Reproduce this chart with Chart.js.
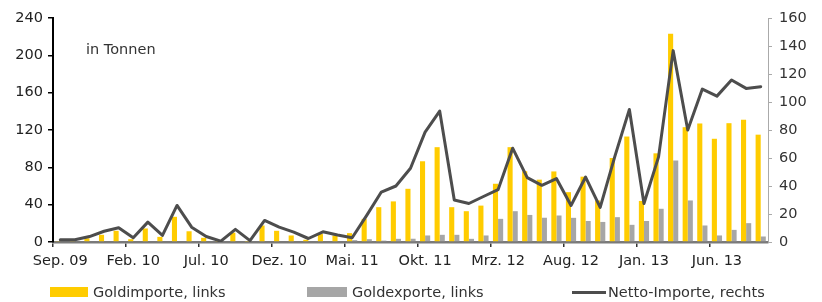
<!DOCTYPE html>
<html>
<head>
<meta charset="utf-8">
<script src="https://cdn.jsdelivr.net/npm/chart.js@4.4.1/dist/chart.umd.min.js"></script>
<style>
  html, body { margin: 0; padding: 0; background: #fff; overflow: hidden; }
  #wrap { position: relative; width: 822px; height: 302px; }
  canvas { display: block; }
  .lg { position: absolute; top: 284px; height: 16px; display: flex; align-items: center;
        font: 14.5px "DejaVu Sans", sans-serif; color: #333; white-space: nowrap; }
  .sw { display: inline-block; width: 38px; height: 10px; margin-right: 5px; }
  .ln { display: inline-block; width: 34px; height: 0; border-top: 3px solid #4d4d4d; margin-right: 2px; }
</style>
</head>
<body>
<div id="wrap">
  <canvas id="c" width="822" height="302"></canvas>
</div>
<script>
// ---- data ----
const categories = [
  "Sep. 09","Okt. 09","Nov. 09","Dez. 09",
  "Jan. 10","Feb. 10","Mrz. 10","Apr. 10","Mai. 10","Jun. 10","Jul. 10","Aug. 10","Sep. 10","Okt. 10","Nov. 10","Dez. 10",
  "Jan. 11","Feb. 11","Mrz. 11","Apr. 11","Mai. 11","Jun. 11","Jul. 11","Aug. 11","Sep. 11","Okt. 11","Nov. 11","Dez. 11",
  "Jan. 12","Feb. 12","Mrz. 12","Apr. 12","Mai. 12","Jun. 12","Jul. 12","Aug. 12","Sep. 12","Okt. 12","Nov. 12","Dez. 12",
  "Jan. 13","Feb. 13","Mrz. 13","Apr. 13","Mai. 13","Jun. 13","Jul. 13","Aug. 13","Sep. 13"
];
const tickLabels = ["Sep. 09","Feb. 10","Jul. 10","Dez. 10","Mai. 11","Okt. 11","Mrz. 12","Aug. 12","Jan. 13","Jun. 13"];

// Goldimporte (Tonnen, linke Achse)
const goldImports = [
  1, 1, 4, 7.7, 12, 3, 14.5, 5.5, 27, 11.5,
  4.5, 0.5, 10, 0.5, 17.7, 12, 7, 2.4, 8.5, 7,
  9.5, 24.8, 37.3, 43.5, 57, 86.5, 101.6, 37.3, 33, 39,
  62.4, 101.6, 75.8, 66.8, 75.6, 53.4, 70, 44.5, 90, 113,
  44, 95, 223, 123, 127, 110.6, 127.3, 131, 115
];
// Goldexporte (Tonnen, linke Achse)
const goldExports = [
  0, 0, 0, 0, 0, 0, 0, 0, 0, 0,
  0, 0, 0, 0, 0, 0, 0, 0, 0, 0,
  2, 3, 1.5, 3.4, 3.5, 7, 7.7, 7.7, 3.4, 7,
  24.8, 33, 29, 26, 28.4, 25.9, 22.5, 21.5, 26.6, 18.4,
  22.5, 35.6, 87.3, 44.5, 17.7, 7, 13, 20.2, 5.9
];
// Netto-Importe (Tonnen, rechte Achse)
const netImports = [
  1.6, 1.6, 3.9, 7.7, 10.2, 3, 14.2, 4.7, 26.1, 10.6,
  3.9, 0.6, 9, 1, 15.4, 10.6, 7, 2.5, 7.3, 5,
  3, 19, 35.7, 40, 52.7, 78.5, 93.5, 30, 27.5, 32.5,
  37.4, 67, 46, 40.5, 45.3, 26.1, 46.4, 24.7, 61, 94.7,
  27.5, 60.8, 136.7, 80, 109.2, 104.2, 115.7, 109.7, 110.9
];
const seriesNames = ["Goldimporte, links", "Goldexporte, links", "Netto-Importe, rechts"];
const unitLabel = "in Tonnen";

const leftAxis = { min: 0, max: 240, step: 40 };
const rightAxis = { min: 0, max: 160, step: 20 };

// ---- chart ----
const FONT = { family: "DejaVu Sans", size: 14.5 };
const YELLOW = "#ffcc00", GREY = "#a6a6a6", LINE = "#4d4d4d";

const unitPlugin = {
  id: "unitLabel",
  afterDraw(chart) {
    const { ctx, chartArea } = chart;
    ctx.save();
    ctx.font = '14.5px "DejaVu Sans"';
    ctx.fillStyle = "#333";
    ctx.textBaseline = "middle";
    ctx.textAlign = "left";
    ctx.fillText(unitLabel, chartArea.left + 33, chartArea.top + 32);
    ctx.restore();
  }
};

const chart = new Chart(document.getElementById("c"), {
  data: {
    labels: categories,
    datasets: [
      { type: "bar", label: seriesNames[0], data: goldImports, yAxisID: "y",
        backgroundColor: YELLOW, borderWidth: 0, categoryPercentage: 0.7, barPercentage: 1, order: 1 },
      { type: "bar", label: seriesNames[1], data: goldExports, yAxisID: "y",
        backgroundColor: GREY, borderWidth: 0, categoryPercentage: 0.7, barPercentage: 1, order: 1 },
      { type: "line", label: seriesNames[2], data: netImports, yAxisID: "y1",
        borderColor: LINE, borderWidth: 3, pointRadius: 0, tension: 0, order: 0,
        borderJoinStyle: "round", borderCapStyle: "round" }
    ]
  },
  options: {
    responsive: false,
    animation: false,
    devicePixelRatio: 1,
    layout: { padding: { top: 18, bottom: 28, left: 0, right: 0 } },
    plugins: { legend: { display: false }, tooltip: { enabled: false } },
    scales: {
      x: {
        offset: true,
        z: 1,
        grid: {
          offset: true, drawOnChartArea: false, drawTicks: true, tickLength: 5, lineWidth: 1.5,
          color: (c) => (c.index !== undefined && c.index % 5 === 0) ? "#333" : "rgba(0,0,0,0)"
        },
        border: { color: "#7a7a7a", width: 2.5 },
        ticks: {
          autoSkip: false, maxRotation: 0, minRotation: 0, padding: 6, font: FONT, color: "#222",
          callback: (v, i) => tickLabels.includes(categories[i]) ? categories[i] : ""
        },
        afterFit: (s) => { s.height = 32; }
      },
      y: {
        position: "left", min: leftAxis.min, max: leftAxis.max,
        ticks: { stepSize: leftAxis.step, padding: 5, font: FONT, color: "#222" },
        grid: { drawOnChartArea: false, tickLength: 5, color: "#000", lineWidth: 1.5 },
        border: { color: "#000", width: 2 },
        afterFit: (s) => { s.width = 53; }
      },
      y1: {
        position: "right", min: rightAxis.min, max: rightAxis.max,
        ticks: { stepSize: rightAxis.step, padding: 7, font: FONT, color: "#333" },
        grid: { drawOnChartArea: false, tickLength: 4, color: "#aaa" },
        border: { color: "#aaa", width: 1 },
        afterFit: (s) => { s.width = 54; }
      }
    }
  },
  plugins: [unitPlugin]
});

// ---- HTML legend built from the chart's datasets ----
const legendLeft = [50, 307, 572];
const wrap = document.getElementById("wrap");
chart.data.datasets.forEach((ds, i) => {
  const item = document.createElement("div");
  item.className = "lg";
  item.style.left = legendLeft[i] + "px";
  const sw = document.createElement("span");
  if (ds.type === "line") {
    sw.className = "ln";
  } else {
    sw.className = "sw";
    sw.style.background = ds.backgroundColor;
    if (i === 1) sw.style.width = "40px";
  }
  item.appendChild(sw);
  item.appendChild(document.createTextNode(ds.label));
  wrap.appendChild(item);
});
</script>
</body>
</html>
